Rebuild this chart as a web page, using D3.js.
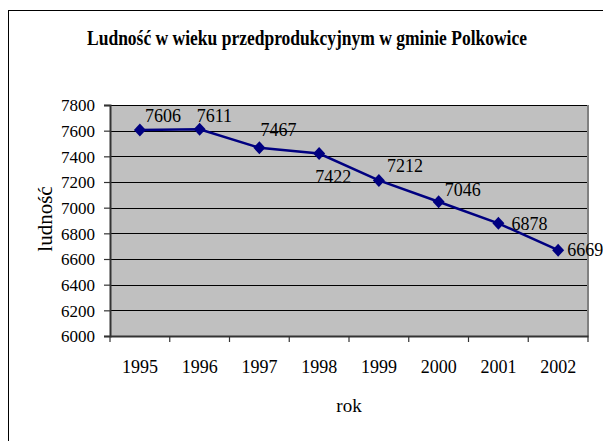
<!DOCTYPE html>
<html>
<head>
<meta charset="utf-8">
<script src="https://cdn.jsdelivr.net/npm/d3@7"></script>
<style>
  html, body { margin: 0; padding: 0; background: #fff; }
  svg { display: block; }
  svg text { font-family: "Liberation Serif", "Times New Roman", serif !important; fill: #000; }
</style>
</head>
<body>
<svg id="chart" width="603" height="441" font-family="Liberation Serif"></svg>
<script>
// ---- data ----
const years = ["1995", "1996", "1997", "1998", "1999", "2000", "2001", "2002"];
const population = [7606, 7611, 7467, 7422, 7212, 7046, 6878, 6669];
const yTicks = [6000, 6200, 6400, 6600, 6800, 7000, 7200, 7400, 7600, 7800];
const titleText = "Ludność w wieku przedprodukcyjnym w gminie Polkowice";
const xTitle = "rok";
const yTitle = "ludność";

// ---- layout (label placement as in the original, dx to left edge, dy to baseline) ----
const labelOffsets = [[5, -8], [-3, -7], [1, -12], [-4, 29], [8, -8], [6, -6], [13, 7], [9, 6]];
const plot = { left: 110, right: 588, top: 105, bottom: 336 };
const FONT = '"Liberation Serif", "Times New Roman", serif';

const svg = d3.select("#chart");

// outer chart border
svg.append("rect")
  .attr("x", 8.5).attr("y", 10.5)
  .attr("width", 620).attr("height", 460)
  .attr("fill", "#fff").attr("stroke", "#000").attr("stroke-width", 1);

const x = d3.scaleBand().domain(years).range([plot.left, plot.right]).padding(0);
const y = d3.scaleLinear().domain([6000, 7800]).range([plot.bottom, plot.top]);

// plot area
svg.append("rect")
  .attr("x", plot.left).attr("y", plot.top)
  .attr("width", plot.right - plot.left).attr("height", plot.bottom - plot.top)
  .attr("fill", "#C0C0C0");

// gridlines
svg.append("g").selectAll("line")
  .data(yTicks.filter(t => t > 6000))
  .join("line")
  .attr("x1", plot.left).attr("x2", plot.right)
  .attr("y1", d => Math.round(y(d)) + 0.5).attr("y2", d => Math.round(y(d)) + 0.5)
  .attr("stroke", "#000").attr("stroke-width", 1);

// right border of plot
svg.append("line")
  .attr("x1", plot.right).attr("x2", plot.right)
  .attr("y1", plot.top).attr("y2", plot.bottom)
  .attr("stroke", "#808080").attr("stroke-width", 2);

// y axis
const yAxis = svg.append("g")
  .attr("transform", `translate(${plot.left},0)`)
  .call(d3.axisLeft(y).tickValues(yTicks).tickSize(6).tickPadding(9).tickFormat(d3.format("d")))
  .attr("font-family", FONT).attr("font-size", 17);
yAxis.select(".domain").attr("stroke", "#333").attr("stroke-width", 2);
yAxis.selectAll(".tick line").attr("stroke", "#333").attr("stroke-width", 1.2);
yAxis.selectAll(".tick text").attr("fill", "#000").attr("dy", "0.34em");

// x axis
const xAxis = svg.append("g")
  .attr("transform", `translate(0,${plot.bottom})`)
  .call(d3.axisBottom(x).tickSize(0).tickPadding(24))
  .attr("font-family", FONT).attr("font-size", 18);
xAxis.select(".domain").attr("stroke", "#333").attr("stroke-width", 2);
xAxis.selectAll(".tick text").attr("fill", "#000");
// category boundary ticks
svg.append("g").selectAll("line")
  .data(years.concat(["end"]))
  .join("line")
  .attr("x1", (d, i) => i < years.length ? x(d) : plot.right)
  .attr("x2", (d, i) => i < years.length ? x(d) : plot.right)
  .attr("y1", plot.bottom).attr("y2", plot.bottom + 6)
  .attr("stroke", "#333").attr("stroke-width", 1.2);

// line
const cx = d => x(d) + x.bandwidth() / 2;
svg.append("path")
  .datum(population)
  .attr("d", d3.line().x((d, i) => cx(years[i])).y(d => y(d)))
  .attr("fill", "none").attr("stroke", "#000080").attr("stroke-width", 2.5);

// diamond markers
svg.append("g").selectAll("path")
  .data(population)
  .join("path")
  .attr("transform", (d, i) => `translate(${cx(years[i])},${y(d)})`)
  .attr("d", "M0,-6.5L6,0L0,6.5L-6,0Z")
  .attr("fill", "#000080");

// data labels
svg.append("g").attr("font-family", FONT).attr("font-size", 18)
  .selectAll("text")
  .data(population)
  .join("text")
  .attr("x", (d, i) => cx(years[i]) + labelOffsets[i][0])
  .attr("y", (d, i) => y(d) + labelOffsets[i][1])
  .text(d => d);

// title
svg.append("text")
  .attr("x", 87).attr("y", 45)
  .attr("textLength", 440).attr("lengthAdjust", "spacingAndGlyphs")
  .attr("font-size", 20).attr("font-weight", "bold")
  .text(titleText);

// axis titles
svg.append("text")
  .attr("x", 349).attr("y", 412)
  .attr("text-anchor", "middle")
  .attr("font-size", 19)
  .text(xTitle);

svg.append("text")
  .attr("transform", "translate(52,219) rotate(-90)")
  .attr("text-anchor", "middle")
  .attr("font-size", 21)
  .text(yTitle);
</script>
</body>
</html>
